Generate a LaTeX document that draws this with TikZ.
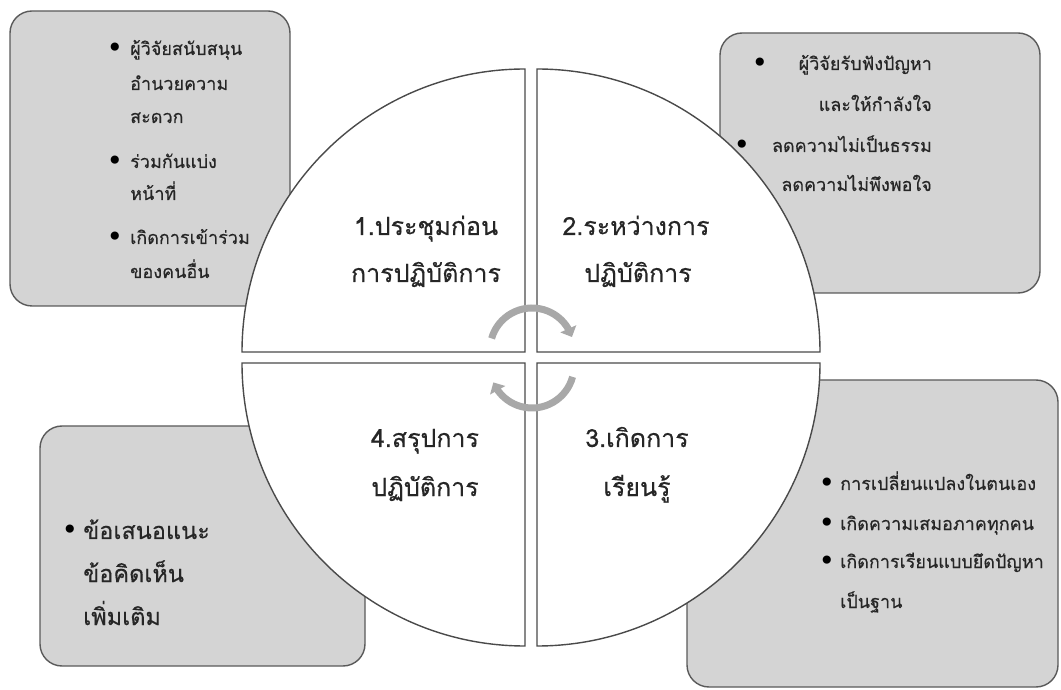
\documentclass[tikz,border=0pt]{standalone}
\usepackage{fontspec}
\usetikzlibrary{arrows.meta,bending}
\newfontfamily\thaifont[Script=Thai,FakeBold=0.4]{Loma}
\newfontfamily\bulfont{DejaVu Sans}
\definecolor{boxfill}{HTML}{D4D4D4}
\definecolor{boxline}{HTML}{5A5A5A}
\definecolor{quadline}{HTML}{4A4A4A}
\definecolor{arrowgray}{HTML}{A8A8A8}
\definecolor{textcol}{HTML}{262626}
\tikzset{
  box/.style={draw=boxline, line width=1.4pt, fill=boxfill, rounded corners=22pt, inner sep=0pt, outer sep=0pt},
  quad/.style={draw=quadline, line width=1.4pt, fill=white},
  cyc/.style={draw=arrowgray, line width=7pt, -{Triangle[length=9pt,width=17pt]}},
  txt/.style={inner sep=0pt, anchor=base west, text=textcol, font=\thaifont\fontsize{18}{22}\selectfont},
  txtr/.style={txt, anchor=base east},
  txtbl/.style={txt, font=\thaifont\fontsize{23.5}{28}\selectfont},
  big/.style={inner sep=0pt, anchor=base, text=textcol, font=\thaifont\fontsize{25}{30}\selectfont},
  bul/.style={inner sep=0pt, anchor=center, text=black, font=\bulfont\fontsize{28}{28}\selectfont},
}
\begin{document}
\begin{tikzpicture}[x=1pt,y=1pt]
\useasboundingbox (0,0) rectangle (1061,689);
% boxes
\node[box, minimum width=280pt, minimum height=295pt] (tlbox) at (150,530.5) {};
\node[box, minimum width=320pt, minimum height=260pt] (trbox) at (880,526) {};
\node[box, minimum width=325pt, minimum height=240pt] (blbox) at (202.5,143) {};
\node[box, minimum width=371pt, minimum height=307pt] (brbox) at (872.5,155.5) {};
% top-left text
\node[bul] (tlb1) at (115,639) {•};
\node[txt] (tl1) at (130,634) {ผู้วิจัยสนับสนุน};
\node[txt] (tl2) at (130,599) {อำนวยความ};
\node[txt] (tl3) at (130,566) {สะดวก};
\node[bul] (tlb2) at (115,526) {•};
\node[txt] (tl4) at (130,521) {ร่วมกันแบ่ง};
\node[txt] (tl5) at (130,489) {หน้าที่};
\node[bul] (tlb3) at (115,450) {•};
\node[txt] (tl6) at (130,445) {เกิดการเข้าร่วม};
\node[txt] (tl7) at (130,411) {ของคนอื่น};
% top-right text
\node[bul] (trb1) at (760,624) {•};
\node[txtr] (tr1) at (932,619) {ผู้วิจัยรับฟังปัญหา};
\node[txtr] (tr2) at (932,578) {และให้กำลังใจ};
\node[bul] (trb2) at (742,542) {•};
\node[txtr] (tr3) at (932,537) {ลดความไม่เป็นธรรม};
\node[txtr] (tr4) at (932,498) {ลดความไม่พึงพอใจ};
% bottom-left text
\node[bul] (blb1) at (70,157) {•};
\node[txtbl] (bl1) at (83,150) {ข้อเสนอแนะ};
\node[txtbl] (bl2) at (83,107) {ข้อคิดเห็น};
\node[txtbl] (bl3) at (83,64) {เพิ่มเติม};
% bottom-right text
\node[bul] (brb1) at (827,204) {•};
\node[txt] (br1) at (840,199) {การเปลี่ยนแปลงในตนเอง};
\node[bul] (brb2) at (827,164) {•};
\node[txt] (br2) at (840,159) {เกิดความเสมอภาคทุกคน};
\node[bul] (brb3) at (827,126) {•};
\node[txt] (br3) at (840,121) {เกิดการเรียนแบบยึดปัญหา};
\node[txt] (br4) at (840,81) {เป็นฐาน};
% quadrants
\draw[quad] (525,337) -- ++(-283,0) arc[start angle=180, end angle=90, radius=283] -- cycle;
\draw[quad] (537,337) -- ++(0,283) arc[start angle=90, end angle=0, radius=283] -- cycle;
\draw[quad] (537,326) -- ++(283,0) arc[start angle=0, end angle=-90, radius=283] -- cycle;
\draw[quad] (525,326) -- ++(0,-283) arc[start angle=270, end angle=180, radius=283] -- cycle;
% quadrant labels
\node[big] (q1a) at (426,454) {1.ประชุมก่อน};
\node[big] (q1b) at (426,407) {การปฏิบัติการ};
\node[big] (q2a) at (636,454) {2.ระหว่างการ};
\node[big] (q2b) at (638,407) {ปฏิบัติการ};
\node[big] (q4a) at (425,242) {4.สรุปการ};
\node[big] (q4b) at (425,193) {ปฏิบัติการ};
\node[big] (q3a) at (637,242) {3.เกิดการ};
\node[big] (q3b) at (637,193) {เรียนรู้};
% cycle arrows
\draw[cyc] (532,339) ++(164:42) arc[start angle=164, end angle=18, radius=42];
\draw[cyc] (532,323) ++(-15:42) arc[start angle=-15, end angle=-157, radius=42];
\end{tikzpicture}
\end{document}
